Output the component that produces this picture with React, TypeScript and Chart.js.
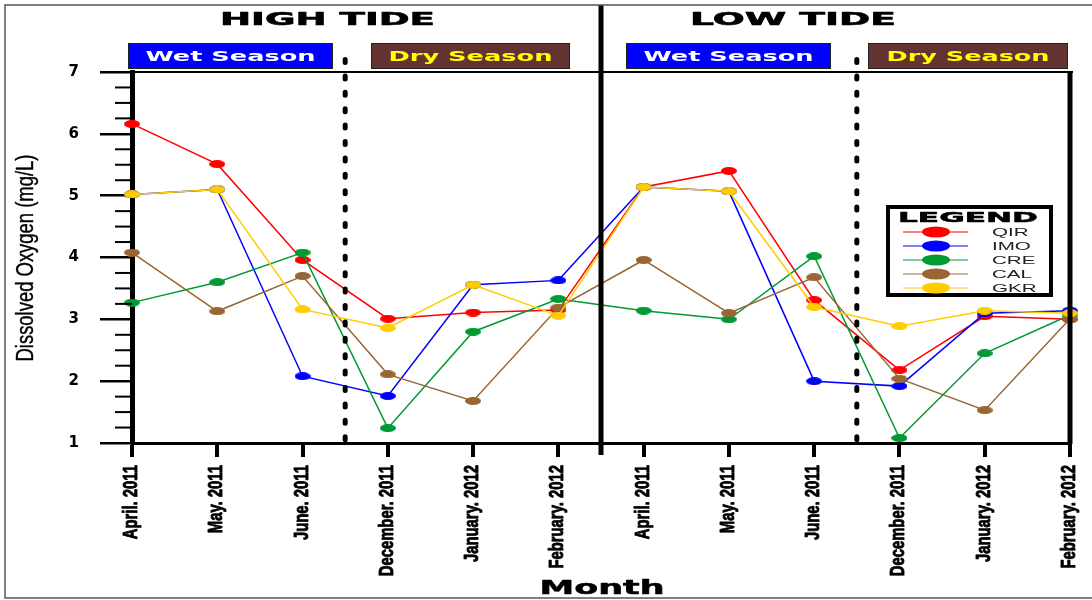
import React, { useEffect, useRef } from "react";
import { Chart, registerables } from "chart.js";

Chart.register(...registerables);

// ---------- data ----------
const months = ["April. 2011", "May. 2011", "June. 2011", "December. 2011", "January. 2012", "February. 2012"];
const categories = [...months, ...months];
const tideLabels = ["HIGH TIDE", "LOW TIDE"];
const seasonLabels = ["Wet Season", "Dry Season"];
const seriesNames = ["QIR", "IMO", "CRE", "CAL", "GKR"];
const qir = [6.16, 5.51, 3.96, 3.01, 3.11, 3.15, 5.14, 5.40, 3.31, 2.18, 3.05, 3.00];
const imo = [5.02, 5.10, 2.08, 1.76, 3.56, 3.63, 5.14, 5.07, 2.00, 1.92, 3.10, 3.14];
const cre = [3.27, 3.60, 4.08, 1.24, 2.80, 3.33, 3.14, 3.00, 4.02, 1.08, 2.45, 3.07];
const cal = [4.08, 3.13, 3.70, 2.11, 1.68, 3.19, 3.96, 3.10, 3.68, 2.04, 1.53, 3.01];
const gkr = [5.02, 5.10, 3.16, 2.86, 3.56, 3.06, 5.14, 5.07, 3.20, 2.89, 3.14, 3.10];
const seriesValues = [qir, imo, cre, cal, gkr];
const seriesColors = ["#FF0000", "#0000FF", "#009933", "#996633", "#FFCC00"];
const drawOrder = [4, 3, 2, 1, 0];
const yMin = 1;
const yMax = 7;
const yStep = 1;
const yMinorStep = 0.25;
const xTitle = "Month";
const yTitle = "Dissolved Oxygen (mg/L)";
const legendTitle = "LEGEND";

function makeEllipse(color: string, w: number, h: number): HTMLCanvasElement {
  const c = document.createElement("canvas");
  c.width = w;
  c.height = h;
  const g = c.getContext("2d")!;
  g.fillStyle = color;
  g.beginPath();
  g.ellipse(w / 2, h / 2, w / 2, h / 2, 0, 0, Math.PI * 2);
  g.fill();
  return c;
}

function stretchText(
  ctx: CanvasRenderingContext2D,
  text: string,
  x: number,
  baseline: number,
  font: string,
  color: string,
  opts: { width?: number; sx?: number; align?: "center" | "left" | "right"; rotate?: number; stroke?: number }
) {
  ctx.save();
  ctx.font = font;
  const w = ctx.measureText(text).width;
  const sx = opts.width ? opts.width / w : opts.sx || 1;
  ctx.translate(x, baseline);
  if (opts.rotate) ctx.rotate(opts.rotate);
  ctx.scale(sx, 1);
  ctx.textAlign = opts.align || "center";
  ctx.textBaseline = "alphabetic";
  ctx.fillStyle = color;
  ctx.fillText(text, 0, 0);
  if (opts.stroke) {
    ctx.strokeStyle = color;
    ctx.lineWidth = opts.stroke;
    ctx.lineJoin = "round";
    ctx.strokeText(text, 0, 0);
  }
  ctx.restore();
}

const decorPlugin = {
  id: "decor",
  afterDatasetsDraw(chart: any) {
    const ctx: CanvasRenderingContext2D = chart.ctx;
    const { left, right, top, bottom } = chart.chartArea;
    const xs = chart.scales.x;
    const ys = chart.scales.y;
    ctx.save();

    // top border & right border
    ctx.strokeStyle = "#000";
    ctx.lineWidth = 2;
    ctx.beginPath();
    ctx.moveTo(left, top);
    ctx.lineTo(right + 3, top);
    ctx.stroke();
    ctx.lineWidth = 5;
    ctx.beginPath();
    ctx.moveTo(right, top - 1);
    ctx.lineTo(right, bottom + 1);
    ctx.stroke();

    // minor y ticks
    ctx.lineWidth = 2;
    for (let v = yMin; v <= yMax + 1e-9; v += yMinorStep) {
      if (Math.abs(v - Math.round(v)) < 1e-6) continue;
      const y = ys.getPixelForValue(v);
      ctx.beginPath();
      ctx.moveTo(left - 17, y);
      ctx.lineTo(left, y);
      ctx.stroke();
    }

    // dotted season separators
    ctx.lineWidth = 5;
    ctx.lineCap = "round";
    ctx.setLineDash([3, 13.4]);
    [2.5, 8.5].forEach((i) => {
      const x = xs.getPixelForValue(i);
      ctx.beginPath();
      ctx.moveTo(x, 59.5);
      ctx.lineTo(x, bottom - 2);
      ctx.stroke();
    });
    ctx.setLineDash([]);
    ctx.lineCap = "butt";

    // tide divider
    const dx = xs.getPixelForValue(5.5);
    ctx.lineWidth = 5;
    ctx.beginPath();
    ctx.moveTo(dx, 5);
    ctx.lineTo(dx, bottom + 12);
    ctx.stroke();

    // x category labels (condensed, rotated)
    (chart.data.labels as string[]).forEach((lab, i) => {
      const x = xs.getPixelForValue(i);
      stretchText(ctx, lab, x + 5, 465, 'bold 21px "Liberation Sans"', "#000", {
        sx: 0.706,
        align: "right",
        rotate: -Math.PI / 2,
        stroke: 0.9,
      });
    });

    // y title (condensed, rotated)
    stretchText(ctx, yTitle, 33, 258, '23px "Liberation Sans"', "#000", {
      width: 207,
      align: "center",
      rotate: -Math.PI / 2,
      stroke: 0.4,
    });

    // headers
    const hfont = 'bold 18px "DejaVu Sans"';
    stretchText(ctx, tideLabels[0], 327.5, 24.5, hfont, "#000", { width: 215, stroke: 0.6 });
    stretchText(ctx, tideLabels[1], 793, 24.5, hfont, "#000", { width: 206, stroke: 0.6 });

    // season boxes
    const boxes = [
      { x1: 128, x2: 333, fill: "#0000FF", text: seasonLabels[0], color: "#FFFFFF", tw: 170 },
      { x1: 371, x2: 570, fill: "#633331", text: seasonLabels[1], color: "#FFFF00", tw: 164 },
      { x1: 626, x2: 831, fill: "#0000FF", text: seasonLabels[0], color: "#FFFFFF", tw: 170 },
      { x1: 868, x2: 1068, fill: "#633331", text: seasonLabels[1], color: "#FFFF00", tw: 163 },
    ];
    boxes.forEach((b) => {
      ctx.fillStyle = b.fill;
      ctx.fillRect(b.x1, 43, b.x2 - b.x1, 26);
      ctx.strokeStyle = "#222";
      ctx.lineWidth = 1;
      ctx.strokeRect(b.x1 + 0.5, 43.5, b.x2 - b.x1 - 1, 25);
      stretchText(ctx, b.text, (b.x1 + b.x2) / 2, 60.5, 'bold 14px "DejaVu Sans"', b.color, { width: b.tw });
    });

    // legend
    const lx1 = 886, lx2 = 1053, ly1 = 205, ly2 = 297;
    ctx.fillStyle = "#fff";
    ctx.fillRect(lx1, ly1, lx2 - lx1, ly2 - ly1);
    ctx.strokeStyle = "#000";
    ctx.lineWidth = 4;
    ctx.strokeRect(lx1 + 2, ly1 + 2, lx2 - lx1 - 4, ly2 - ly1 - 4);
    stretchText(ctx, legendTitle, 968, 221.5, 'bold 14px "DejaVu Sans"', "#000", { width: 140, stroke: 0.5 });
    chart.data.datasets.forEach((ds: any, i: number) => {
      const y = 232 + i * 14;
      ctx.save();
      ctx.globalAlpha = 0.5;
      ctx.strokeStyle = ds.borderColor;
      ctx.lineWidth = 2;
      ctx.beginPath();
      ctx.moveTo(903, y);
      ctx.lineTo(968, y);
      ctx.stroke();
      ctx.restore();
      ctx.fillStyle = ds.borderColor;
      ctx.beginPath();
      ctx.ellipse(936, y, 14, 5.5, 0, 0, Math.PI * 2);
      ctx.fill();
      stretchText(ctx, ds.label, 992, y + 4, '11px "Liberation Sans"', "#222", { sx: 1.87, align: "left" });
    });

    // x title
    stretchText(ctx, xTitle, 602, 594, 'bold 19px "DejaVu Sans"', "#000", { width: 125, stroke: 0.5 });

    // outer frame
    ctx.strokeStyle = "#555";
    ctx.lineWidth = 1.5;
    ctx.strokeRect(5, 5, 1095, 593);

    ctx.restore();
  },
};

export default function App() {
  const ref = useRef<HTMLCanvasElement | null>(null);
  useEffect(() => {
    if (!ref.current) return;
    const datasets = seriesNames.map((name, i) => ({
      label: name,
      data: seriesValues[i],
      borderColor: seriesColors[i],
      backgroundColor: seriesColors[i],
      borderWidth: 1.5,
      pointStyle: makeEllipse(seriesColors[i], 16, 8),
      pointRadius: 5,
      order: drawOrder[i],
      clip: false as any,
      tension: 0,
    }));
    const chart = new Chart(ref.current, {
      type: "line",
      data: { labels: categories, datasets },
      options: {
        responsive: false,
        animation: false,
        layout: { padding: { top: 72, right: 22, bottom: 0, left: 0 } },
        plugins: { legend: { display: false }, tooltip: { enabled: false } },
        scales: {
          x: {
            type: "category",
            offset: false,
            grid: { display: true, drawOnChartArea: false, drawTicks: true, tickLength: 14, lineWidth: 4, color: "#000" },
            border: { display: true, width: 3, color: "#000" },
            ticks: { display: false, autoSkip: false },
            afterFit: (s: any) => {
              s.height = 157;
            },
          },
          y: {
            min: yMin,
            max: yMax,
            grid: { display: true, drawOnChartArea: false, drawTicks: true, tickLength: 32, lineWidth: 2.5, color: "#000" },
            border: { display: true, width: 5, color: "#000" },
            ticks: {
              stepSize: yStep,
              padding: 21,
              color: "#000",
              font: { family: '"DejaVu Sans"', weight: "bold", size: 15 },
            },
            afterFit: (s: any) => {
              s.width = 132;
            },
          },
        },
      },
      plugins: [decorPlugin],
    });
    return () => chart.destroy();
  }, []);
  return (
    <div style={{ position: "absolute", left: 0, top: 0, width: 1092, height: 600, background: "#fff" }}>
      <canvas ref={ref} width={1092} height={600} style={{ width: 1092, height: 600, display: "block" }} />
    </div>
  );
}
